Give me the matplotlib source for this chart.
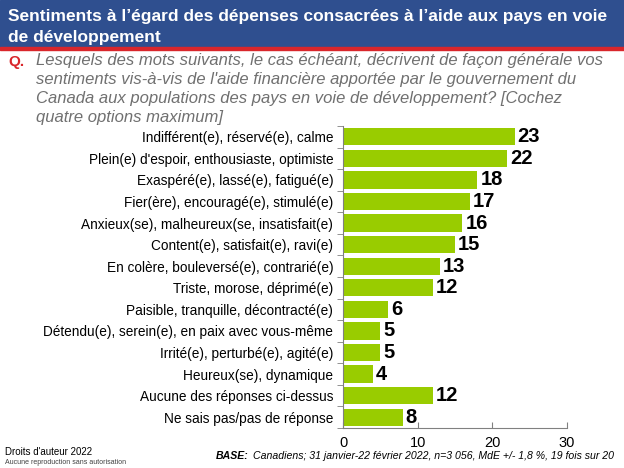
import matplotlib.pyplot as plt
from matplotlib.patches import Rectangle

categories = [
    "Indifférent(e), réservé(e), calme",
    "Plein(e) d'espoir, enthousiaste, optimiste",
    "Exaspéré(e), lassé(e), fatigué(e)",
    "Fier(ère), encouragé(e), stimulé(e)",
    "Anxieux(se), malheureux(se, insatisfait(e)",
    "Content(e), satisfait(e), ravi(e)",
    "En colère, bouleversé(e), contrarié(e)",
    "Triste, morose, déprimé(e)",
    "Paisible, tranquille, décontracté(e)",
    "Détendu(e), serein(e), en paix avec vous-même",
    "Irrité(e), perturbé(e), agité(e)",
    "Heureux(se), dynamique",
    "Aucune des réponses ci-dessus",
    "Ne sais pas/pas de réponse",
]
values = [23, 22, 18, 17, 16, 15, 13, 12, 6, 5, 5, 4, 12, 8]
xticks = [0, 10, 20, 30]

title = "Sentiments à l’égard des dépenses consacrées à l’aide aux pays en voie\nde développement"
question = ("Lesquels des mots suivants, le cas échéant, décrivent de façon générale vos\n"
            "sentiments vis-à-vis de l'aide financière apportée par le gouvernement du\n"
            "Canada aux populations des pays en voie de développement? [Cochez\n"
            "quatre options maximum]")

plt.rcParams['font.family'] = ['Liberation Sans', 'DejaVu Sans']

fig = plt.figure(figsize=(6.24, 4.68), dpi=100)

# header banner
fig.patches.append(Rectangle((0, 1 - 47 / 468), 1, 47 / 468, transform=fig.transFigure,
                             color='#2F4F8F', zorder=0))
fig.patches.append(Rectangle((0, 1 - 50 / 468), 1, 3 / 468, transform=fig.transFigure,
                             color='#D9262B', zorder=0))
fig.text(8 / 624, 1 - 27 / 468, title, color='white', fontsize=12.5, fontweight='bold',
         va='center', ha='left', linespacing=1.45)

fig.text(8 / 624, 1 - 62 / 468, "Q.", color='#D9262B', fontsize=11, fontweight='bold',
         va='center', ha='left')
fig.text(36 / 624, 1 - 53 / 468, question, color='#707070', fontsize=12, style='italic',
         va='top', ha='left', linespacing=1.33)

ax = fig.add_axes([343 / 624, 1 - 428 / 468, 224 / 624, 302 / 468])
y = list(range(len(categories)))
ax.barh(y, values, height=0.8, color='#99CC00')
for yi, v in zip(y, values):
    ax.text(v + 0.4, yi, str(v), va='center', ha='left', fontsize=14.5, fontweight='bold')

ax.set_ylim(len(categories) - 0.5, -0.5)
ax.set_xlim(0, 30)
ax.set_xticks(xticks)
ax.set_yticks(y)
ax.set_yticklabels(categories, fontsize=9.8)
ax.set_yticks([i + 0.5 for i in range(-1, len(categories))], minor=True)
ax.tick_params(axis='y', which='major', length=0, pad=7)
ax.tick_params(axis='y', which='minor', length=4, color='#808080')
ax.tick_params(axis='x', direction='in', length=4, color='#808080', labelsize=10.5, pad=6)
for s in ['top', 'right']:
    ax.spines[s].set_visible(False)
ax.spines['left'].set_color('#808080')
ax.spines['bottom'].set_color('#808080')

# footer
fig.text(5 / 624, 1 - 452 / 468, "Droits d'auteur 2022", fontsize=7, va='center', ha='left')
fig.text(5 / 624, 1 - 462 / 468, "Aucune reproduction sans autorisation", fontsize=5,
         va='center', ha='left', color='#404040')
base = fig.text(216 / 624, 1 - 456 / 468, "BASE:", fontsize=7.6, fontweight='bold',
                style='italic', va='center', ha='left')
renderer = fig.canvas.get_renderer()
bx = base.get_window_extent(renderer).x1
fig.text((bx + 4) / 624, 1 - 456 / 468,
         "Canadiens; 31 janvier-22 février 2022, n=3 056, MdE +/- 1,8 %, 19 fois sur 20",
         fontsize=7.6, style='italic', va='center', ha='left')

fig.savefig("out.png", dpi=100)
